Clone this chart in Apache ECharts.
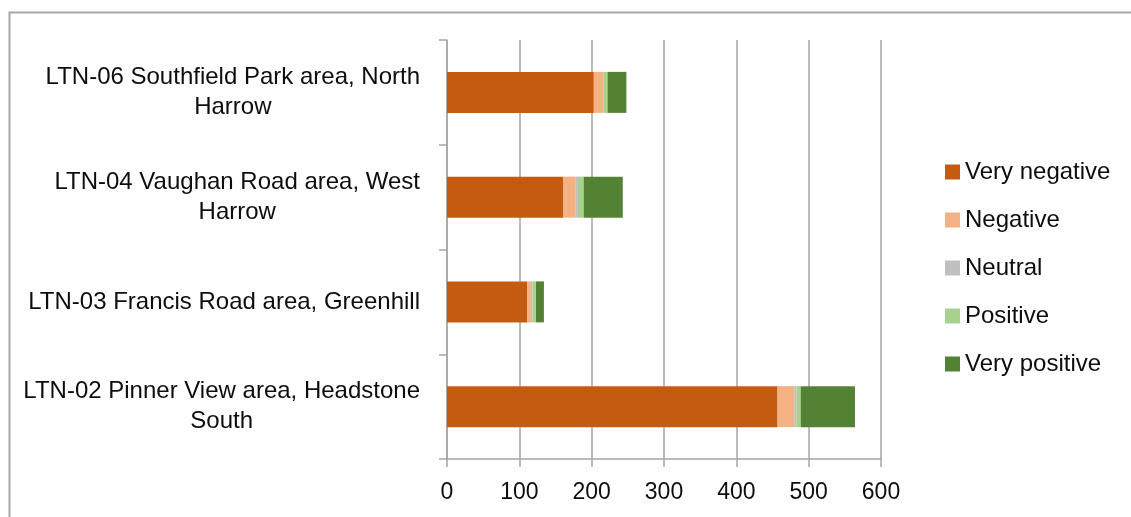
<!DOCTYPE html>
<html>
<head>
<meta charset="utf-8">
<script src="https://cdn.jsdelivr.net/npm/echarts@6/dist/echarts.min.js"></script>
<style>
  html, body { margin: 0; padding: 0; background: #fff; }
  #chart { width: 1131px; height: 517px; }
</style>
</head>
<body>
<div id="chart"></div>
<script>
// categories bottom -> top (category axis starts at the bottom)
const areas = [
  'LTN-02 Pinner View area, Headstone\nSouth',
  'LTN-03 Francis Road area, Greenhill',
  'LTN-04 Vaughan Road area, West\nHarrow',
  'LTN-06 Southfield Park area, North\nHarrow'
]
const veryNegative = [457, 111, 161, 203]
const negative = [23, 5, 17, 13]
const neutral = [3, 2, 3, 1]
const positive = [6, 5, 8, 5]
const veryPositive = [75, 11, 54, 26]
const xTicks = [0, 100, 200, 300, 400, 500, 600]

const chart = echarts.init(document.getElementById('chart'))

const font = 'Liberation Sans'
let seriesList = [
  { name: 'Very negative', data: veryNegative, color: '#C55A11' },
  { name: 'Negative', data: negative, color: '#F4B183' },
  { name: 'Neutral', data: neutral, color: '#BFBFBF' },
  { name: 'Positive', data: positive, color: '#A9D18E' },
  { name: 'Very positive', data: veryPositive, color: '#548235' }
].map((s) => {
  return {
    name: s.name,
    type: 'bar',
    stack: 'total',
    barWidth: 41,
    data: s.data,
    itemStyle: { color: s.color },
    emphasis: { disabled: true }
  }
})

chart.setOption({
  animation: false,
  textStyle: { fontFamily: font },
  graphic: [{
    type: 'rect',
    left: 7, top: 10,
    shape: { width: 1200, height: 600 },
    style: { fill: 'none', stroke: '#A6A6A6', lineWidth: 2 },
    silent: true
  }],
  grid: { left: 447, right: 250, top: 40, bottom: 58 },
  legend: {
    orient: 'vertical',
    left: 945,
    top: 160,
    padding: 0,
    itemWidth: 15,
    itemHeight: 15,
    itemGap: 24,
    icon: 'rect',
    textStyle: { fontSize: 24, lineHeight: 24, color: '#0d0d0d', fontFamily: font }
  },
  xAxis: {
    type: 'value',
    min: xTicks[0],
    max: xTicks[xTicks.length - 1],
    interval: 100,
    axisLine: { show: true, lineStyle: { color: '#A6A6A6', width: 1.5 } },
    axisTick: { show: true, length: 8, lineStyle: { color: '#A6A6A6', width: 1.5 } },
    splitLine: { show: true, lineStyle: { color: '#A6A6A6', width: 1.5 } },
    axisLabel: { fontSize: 23, color: '#0d0d0d', margin: 22, fontFamily: font }
  },
  yAxis: {
    type: 'category',
    data: areas,
    axisLine: { show: true, lineStyle: { color: '#A6A6A6', width: 1.5 } },
    axisTick: { show: true, length: 8, lineStyle: { color: '#A6A6A6', width: 1.5 } },
    axisLabel: {
      margin: 27,
      color: '#0d0d0d',
      formatter: (v) => v.split('\n').map((l) => '{c|' + l + '}').join('\n'),
      rich: {
        c: { align: 'center', fontSize: 24, lineHeight: 30, color: '#0d0d0d', fontFamily: font }
      }
    }
  },
  series: seriesList
})
</script>
</body>
</html>
